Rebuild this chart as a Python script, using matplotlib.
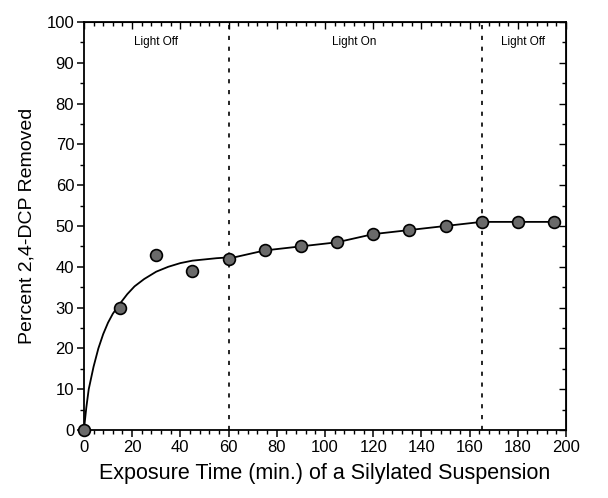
import matplotlib
matplotlib.use("Agg")
import matplotlib.pyplot as plt
from matplotlib.ticker import MultipleLocator

plt.rcParams['font.family'] = ['Liberation Sans', 'DejaVu Sans']

# measured points
time_min = [0, 15, 30, 45, 60, 75, 90, 105, 120, 135, 150, 165, 180, 195]
removed = [0, 30, 43, 39, 42, 44, 45, 46, 48, 49, 50, 51, 51, 51]

# fitted curve for the dark period
fit_t = [0, 1, 2, 4, 6, 8, 10, 12, 15, 18, 21, 25, 30, 35, 40, 45, 50, 55, 60]
fit_y = [0, 5.5, 10, 15.5, 20, 23.5, 26.3, 28.5, 31, 33.3, 35.2, 37, 38.8, 40, 40.9, 41.5, 41.8, 42.1, 42.3]

light_switch = [60, 165]
period_labels = ["Light Off", "Light On", "Light Off"]
label_x = [30, 112, 182]

fig = plt.figure(figsize=(6.08, 4.98), dpi=100)
ax = fig.add_axes([0.138, 0.1365, 0.793, 0.8195])

ax.plot(fit_t, fit_y, color="black", lw=1.3, zorder=2)
ax.plot(time_min[4:], removed[4:], color="black", lw=1.3, zorder=2)
ax.plot(time_min, removed, "o", ms=8.5, mfc="#6a6a6a", mec="black", mew=1.2,
        zorder=5, clip_on=False)

for xv in light_switch:
    ax.axvline(xv, color="black", lw=1.2, ls=(0, (2.5, 4)), zorder=1)

for lx, lab in zip(label_x, period_labels):
    ax.text(lx, 95, lab, ha="center", va="center", fontsize=8.5)

ax.set_xlim(0, 200)
ax.set_ylim(0, 100)
ax.xaxis.set_major_locator(MultipleLocator(20))
ax.xaxis.set_minor_locator(MultipleLocator(4))
ax.yaxis.set_major_locator(MultipleLocator(10))
ax.yaxis.set_minor_locator(MultipleLocator(5))
ax.tick_params(axis="both", which="major", labelsize=12, length=5, width=1.1, pad=2)
ax.tick_params(axis="both", which="minor", length=3, width=1)
ax.tick_params(axis="both", which="both", direction="out")
for sp in ax.spines.values():
    sp.set_linewidth(1.3)

# inward ticks on top and right
top = ax.secondary_xaxis("top")
top.xaxis.set_major_locator(MultipleLocator(20))
top.xaxis.set_minor_locator(MultipleLocator(4))
top.tick_params(which="both", direction="in", labeltop=False, width=1)
top.tick_params(which="major", length=5)
top.tick_params(which="minor", length=3)
right = ax.secondary_yaxis("right")
right.yaxis.set_major_locator(MultipleLocator(10))
right.yaxis.set_minor_locator(MultipleLocator(5))
right.tick_params(which="both", direction="in", labelright=False, width=1)
right.tick_params(which="major", length=5)
right.tick_params(which="minor", length=3)

ax.set_xlabel("Exposure Time (min.) of a Silylated Suspension", fontsize=15.5, labelpad=6)
ax.set_ylabel("Percent 2,4-DCP Removed", fontsize=14, labelpad=8)

fig.savefig("out.png", dpi=100)
